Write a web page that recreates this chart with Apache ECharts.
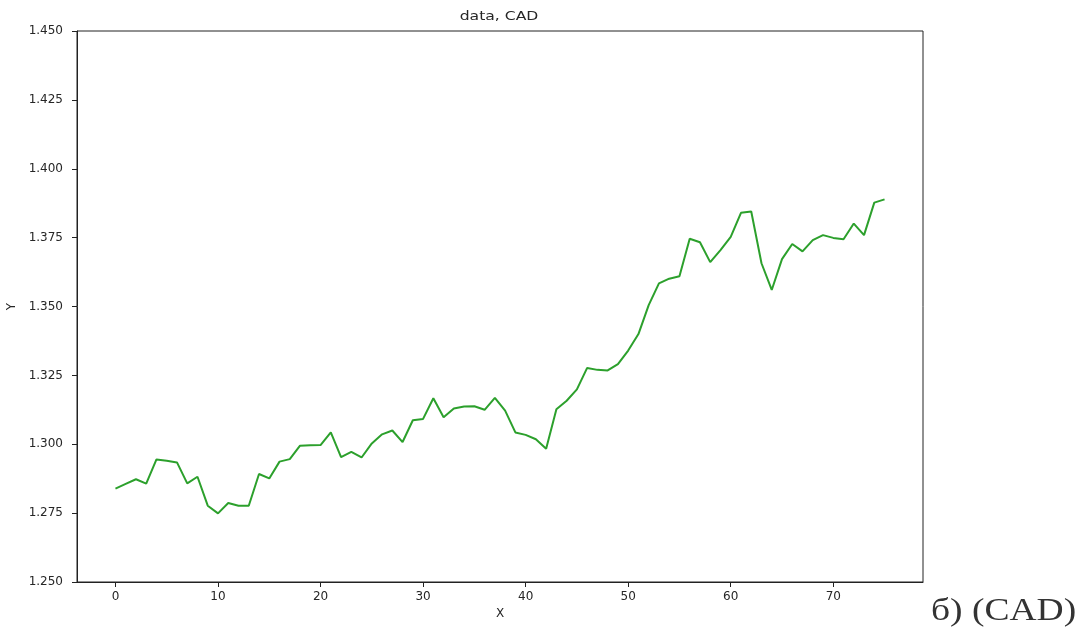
<!DOCTYPE html>
<html>
<head>
<meta charset="utf-8">
<script src="https://cdn.jsdelivr.net/npm/echarts@6/dist/echarts.min.js"></script>
<style>
  html, body { margin: 0; padding: 0; background: #fff; }
  #chart { width: 1079px; height: 635px; }
</style>
</head>
<body>
<div id="chart"></div>
<script>
// CAD exchange-rate series, one value per step
const xValues = Array.from({ length: 76 }, (_, i) => i);
const cadValues = [
  1.2839, 1.2856, 1.2873, 1.2857, 1.2945, 1.2940, 1.2934, 1.2858, 1.2882, 1.2777,
  1.2749, 1.2787, 1.2777, 1.2777, 1.2892, 1.2876, 1.2937, 1.2946, 1.2995, 1.2996,
  1.2997, 1.3043, 1.2953, 1.2972, 1.2952, 1.3003, 1.3036, 1.3050, 1.3008, 1.3087,
  1.3092, 1.3167, 1.3098, 1.3130, 1.3137, 1.3138, 1.3125, 1.3168, 1.3122, 1.3043,
  1.3034, 1.3018, 1.2984, 1.3127, 1.3158, 1.3199, 1.3277, 1.3270, 1.3268, 1.3291,
  1.3340, 1.3400, 1.3505, 1.3584, 1.3601, 1.3610, 1.3746, 1.3733, 1.3661, 1.3705,
  1.3753, 1.3840, 1.3845, 1.3657, 1.3560, 1.3672, 1.3727, 1.3700, 1.3741, 1.3759,
  1.3749, 1.3744, 1.3801, 1.3759, 1.3877, 1.3889
];
const xTicks = [0, 10, 20, 30, 40, 50, 60, 70];
const titleText = 'data, CAD';
const captionText = 'б) (CAD)';

const chart = echarts.init(document.getElementById('chart'), null, { renderer: 'canvas' });
const font = 'DejaVu Sans';
const ink = '#262626';

chart.setOption({
  animation: false,
  backgroundColor: '#ffffff',
  grid: {
    left: 77, right: 156, top: 31, bottom: 53,
    outerBoundsMode: 'none',
    containLabel: false,
    show: true, borderColor: '#222', borderWidth: 1, backgroundColor: '#fff'
  },
  xAxis: {
    type: 'value',
    min: -3.75, max: 78.75,
    name: 'X', nameLocation: 'middle', nameGap: 26,
    nameTextStyle: { fontFamily: font, fontSize: 12, color: ink },
    axisLine: { show: true, onZero: false, lineStyle: { color: '#222', width: 1 } },
    axisTick: { show: true, length: 5, customValues: xTicks, lineStyle: { color: '#222' } },
    axisLabel: {
      customValues: xTicks, margin: 9,
      fontFamily: font, fontSize: 12, color: ink,
      formatter: v => String(v)
    },
    splitLine: { show: false }
  },
  yAxis: {
    type: 'value',
    min: 1.25, max: 1.45, interval: 0.025,
    name: 'Y', nameLocation: 'middle', nameGap: 56,
    nameTextStyle: { fontFamily: font, fontSize: 12, color: ink },
    axisLine: { show: true, onZero: false, lineStyle: { color: '#222', width: 1 } },
    axisTick: { show: true, length: 5, lineStyle: { color: '#222' } },
    axisLabel: {
      margin: 14, fontFamily: font, fontSize: 12, color: ink,
      formatter: v => v.toFixed(3)
    },
    splitLine: { show: false }
  },
  graphic: [
    {
      // chart title, centred over the plot area
      type: 'text',
      x: 499, y: 10,
      scaleX: 1.2,
      style: {
        text: titleText,
        font: '13px "DejaVu Sans"',
        fill: ink,
        align: 'center',
        verticalAlign: 'top'
      }
    },
    {
      // panel caption in the lower right corner
      type: 'text',
      x: 931, y: 596,
      scaleX: 1.21,
      style: {
        text: captionText,
        font: '31px "Liberation Serif", "DejaVu Serif", serif',
        fill: '#333',
        align: 'left',
        verticalAlign: 'top'
      }
    }
  ],
  series: [{
    type: 'line',
    data: xValues.map((x, i) => [x, cadValues[i]]),
    showSymbol: false,
    lineStyle: { color: '#2ca02c', width: 2 },
    itemStyle: { color: '#2ca02c' }
  }]
});
</script>
</body>
</html>
